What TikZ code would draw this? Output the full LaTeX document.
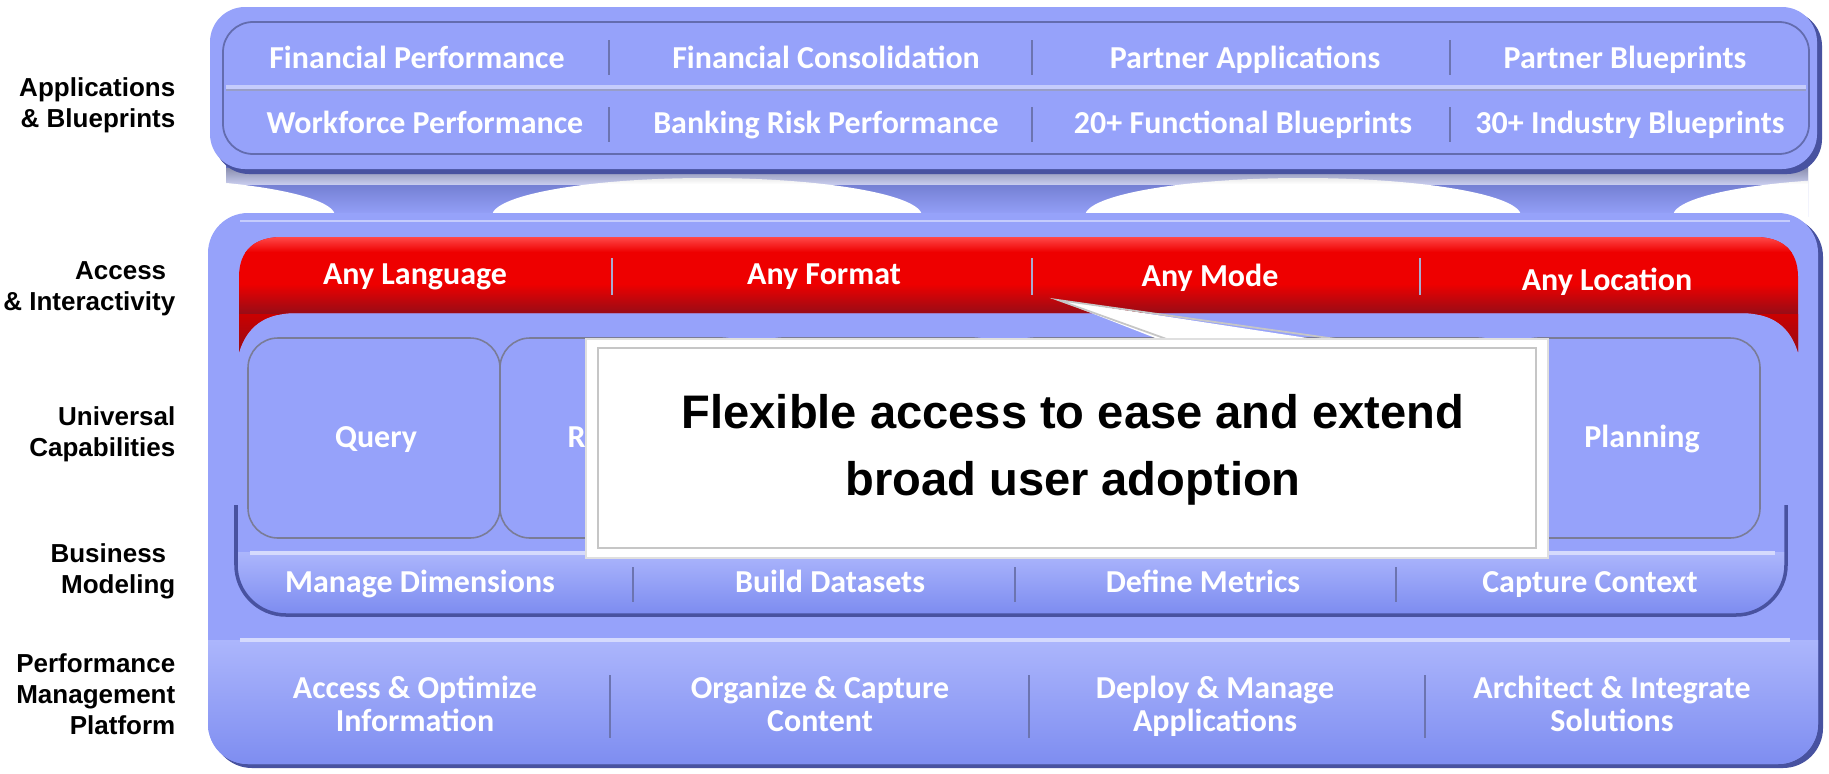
\documentclass[tikz,border=0pt]{standalone}
\usepackage{fontspec}
\setmainfont{Liberation Sans}
\newfontfamily\calibrifont{Carlito}
\usepackage{tikz}
\usetikzlibrary{positioning}
\definecolor{panelblue}{RGB}{150,162,250}
\definecolor{panellight}{RGB}{172,182,252}
\definecolor{panellow}{RGB}{124,139,240}
\definecolor{paneldark}{RGB}{72,82,160}
\definecolor{sepblue}{RGB}{108,116,176}
\definecolor{barred}{RGB}{238,0,0}
\definecolor{barlight}{RGB}{255,72,72}
\definecolor{bardark}{RGB}{150,12,22}
\definecolor{boxgray}{RGB}{122,124,150}

\begin{document}
\begin{tikzpicture}[x=0.1mm, y=-0.1mm,
    sidelabel/.style={anchor=east, align=right, text=black, inner sep=0pt,
        font=\bfseries\fontsize{7.4}{8.9}\selectfont},
    tiletext/.style={anchor=base, text=white, inner sep=0pt,
        font=\calibrifont\bfseries\fontsize{9.1}{9.4}\selectfont},
    tiletwo/.style={anchor=north, align=center, text=white, inner sep=0pt,
        font=\calibrifont\bfseries\fontsize{9.1}{9.4}\selectfont},
    sepline/.style={draw=sepblue, line width=0.7pt},
    capbox/.style={draw=boxgray, line width=0.45pt, rounded corners=3mm}]

    \useasboundingbox (0,0) rectangle (1829,773);

    % Legs between the two panels
    \begin{scope}
        \clip (226,165) rectangle (1808,216);
        \shade[top color=paneldark!70!panelblue, bottom color=panelblue] (226,165) rectangle (1808,216);
        \fill[white] (120,216) ellipse [x radius=21.5mm, y radius=3.8mm];
        \fill[white] (707,216) ellipse [x radius=21.5mm, y radius=3.8mm];
        \fill[white] (1303,216) ellipse [x radius=21.8mm, y radius=3.8mm];
        \fill[white] (1888,216) ellipse [x radius=21.5mm, y radius=3.8mm];
        \shade[top color=gray!70, bottom color=white, opacity=0.6] (226,168) rectangle (1808,184);
    \end{scope}

    % Applications panel
    \fill[paneldark, rounded corners=3.5mm] (214,11) rectangle (1822,174);
    \fill[panelblue, rounded corners=3.5mm] (210,7) rectangle (1817,169);
    \draw[paneldark!85, line width=0.5pt, rounded corners=3mm] (223,22) rectangle (1809,154);
    \draw[white!45!panelblue, line width=1.2pt] (226,87) -- (1806,87);
    \draw[sepblue!70, line width=0.4pt] (226,90) -- (1806,90);
    \draw[sepline] (609,40) -- (609,75);
    \draw[sepline] (1032,40) -- (1032,75);
    \draw[sepline] (1450,40) -- (1450,75);
    \draw[sepline] (609,107) -- (609,142);
    \draw[sepline] (1032,107) -- (1032,142);
    \draw[sepline] (1450,107) -- (1450,142);
    \node[tiletext] (finPerf) at (417,68) {Financial Performance};
    \node[tiletext] (finCons) at (826,68) {Financial Consolidation};
    \node[tiletext] (partApps) at (1245,68) {Partner Applications};
    \node[tiletext] (partBlue) at (1625,68) {Partner Blueprints};
    \node[tiletext] (workPerf) at (425,133) {Workforce Performance};
    \node[tiletext] (bankRisk) at (826,133) {Banking Risk Performance};
    \node[tiletext] (funcBlue) at (1243,133) {20+ Functional Blueprints};
    \node[tiletext] (indBlue) at (1630,133) {30+ Industry Blueprints};

    % Platform panel
    \fill[paneldark, rounded corners=4mm] (212,217) rectangle (1823,768);
    \fill[panelblue, rounded corners=4mm] (208,213) rectangle (1818,764);
    \begin{scope}
        \clip[rounded corners=4mm] (208,213) rectangle (1818,764);
        \shade[top color=panellight, bottom color=panellow] (200,640) rectangle (1830,770);
    \end{scope}
    \draw[white!60!panelblue, line width=1pt] (240,640) -- (1790,640);
    \draw[white!45!panelblue, line width=0.8pt] (240,221) -- (1790,221);

    % Business modeling tray
    \begin{scope}
        \clip[rounded corners=5mm] (236,400) rectangle (1786,615);
        \shade[top color=panellight, bottom color=panellow] (230,552) rectangle (1790,615);
    \end{scope}
    \draw[white!60!panelblue, line width=1pt] (250,553) -- (1775,553);
    \draw[paneldark, line width=1pt, rounded corners=5mm] (236,505) -- (236,615) -- (1786,615) -- (1786,505);

    % Access bar
    \begin{scope}
        \clip (239,352) -- (239,277) .. controls (239,250) and (255,237) .. (282,237)
            -- (1755,237) .. controls (1782,237) and (1798,250) .. (1798,277)
            -- (1798,352) .. controls (1790,326) and (1772,313) .. (1742,313)
            -- (295,313) .. controls (265,313) and (247,326) .. (239,352) -- cycle;
        \fill[barred] (230,230) rectangle (1810,360);
        \shade[top color=barlight, bottom color=barred] (230,237) rectangle (1810,252);
        \shade[top color=barred, bottom color=bardark] (230,284) rectangle (1810,314);
        \shade[top color=barred!85!black, bottom color=bardark] (230,314) rectangle (1810,352);
    \end{scope}
    \draw[sepline, draw=sepblue!60!white] (612,258) -- (612,295);
    \draw[sepline, draw=sepblue!60!white] (1032,258) -- (1032,295);
    \draw[sepline, draw=sepblue!60!white] (1420,258) -- (1420,295);
    \node[tiletext] (anyLang) at (415,284) {Any Language};
    \node[tiletext] (anyFormat) at (824,284) {Any Format};
    \node[tiletext] (anyMode) at (1210,286) {Any Mode};
    \node[tiletext] (anyLoc) at (1607,290) {Any Location};

    % Capability tiles
    \draw[capbox] (248,338) rectangle (500,538);
    \draw[capbox] (500,338) rectangle (752,538);
    \draw[capbox] (752,338) rectangle (1004,538);
    \draw[capbox] (1004,338) rectangle (1256,538);
    \draw[capbox] (1256,338) rectangle (1508,538);
    \draw[capbox] (1508,338) rectangle (1760,538);
    \node[tiletext] (query) at (376,447) {Query};
    \node[tiletext, anchor=base west] (rep) at (567,447) {R};
    \node[tiletext] (planning) at (1642,447) {Planning};

    % Business modeling
    \draw[sepline] (633,567) -- (633,602);
    \draw[sepline] (1015,567) -- (1015,602);
    \draw[sepline] (1396,567) -- (1396,602);
    \node[tiletext] (manDim) at (420,592) {Manage Dimensions};
    \node[tiletext] (buildData) at (830,592) {Build Datasets};
    \node[tiletext] (defMetrics) at (1203,592) {Define Metrics};
    \node[tiletext] (capContext) at (1590,592) {Capture Context};

    % Platform services
    \draw[sepline] (610,675) -- (610,738);
    \draw[sepline] (1029,675) -- (1029,738);
    \draw[sepline] (1425,675) -- (1425,738);
    \node[tiletwo] (accessOpt) at (415,675) {Access \& Optimize\\Information};
    \node[tiletwo] (orgCapture) at (820,675) {Organize \& Capture\\Content};
    \node[tiletwo] (deployMan) at (1215,675) {Deploy \& Manage\\Applications};
    \node[tiletwo] (archInt) at (1612,675) {Architect \& Integrate\\Solutions};

    % Callout
    \coordinate (tip) at (1058,300);
    \fill[white] (tip) -- (1186,350) -- (1386,350) -- cycle;
    \draw[gray!45, line width=0.5pt] (1186,346) -- (tip) -- (1386,346);
    \node[draw=gray!25, fill=white, line width=0.8pt, minimum width=96.2mm, minimum height=21.9mm,
        inner sep=0pt] (callout) at (1067,448.5) {};
    \draw[gray!45, line width=0.5pt] (598,348) rectangle (1536,548);
    \node[align=center, font=\bfseries\fontsize{13.4}{19.1}\selectfont] (calloutText) at (1073,450)
        {Flexible access to ease and extend\\broad user adoption};

    % Layer labels
    \node[sidelabel] (labApps) at (176,105) {Applications\\\& Blueprints};
    \node[sidelabel] (labAccess) at (176,289) {Access\hspace*{0.35em}\\\& Interactivity};
    \node[sidelabel] (labCaps) at (176,434) {Universal\\Capabilities};
    \node[sidelabel] (labBiz) at (176,571) {Business\hspace*{0.35em}\\Modeling};
    \node[sidelabel] (labPlat) at (176,694) {Performance\\Management\\Platform};
\end{tikzpicture}
\end{document}
